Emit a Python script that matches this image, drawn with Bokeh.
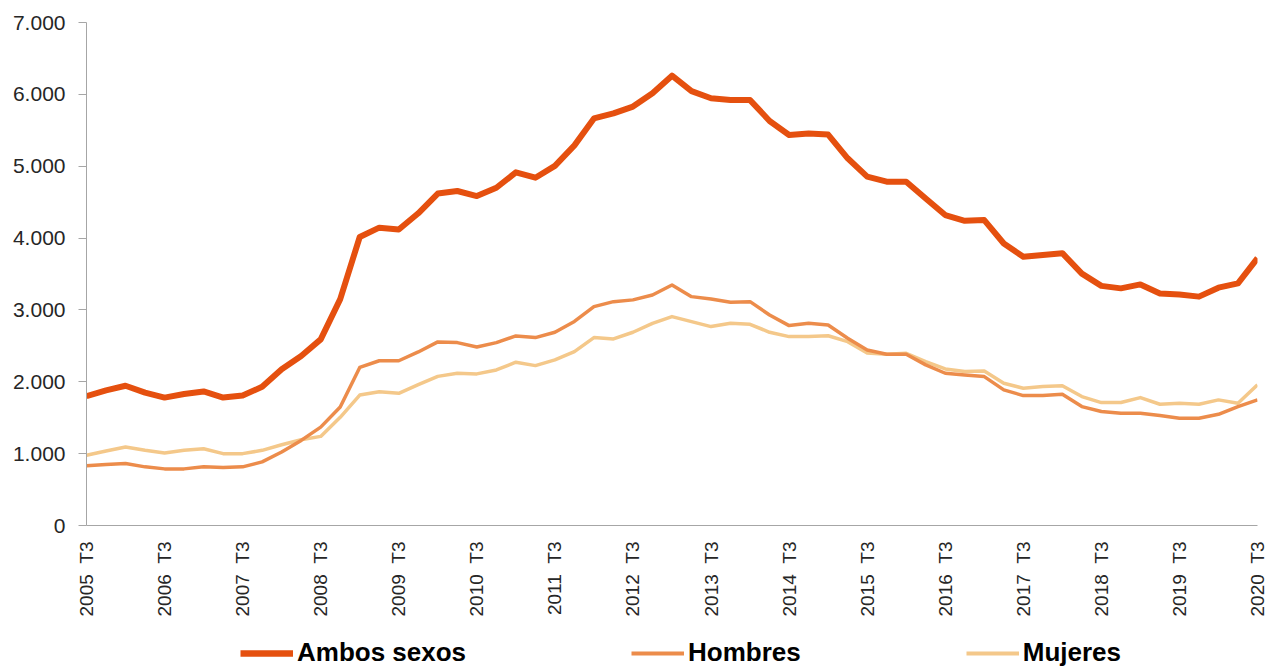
import math
from bokeh.plotting import figure
from bokeh.layouts import column
from bokeh.models import FixedTicker, Legend, LegendItem, Range1d, ColumnDataSource
from bokeh.embed import file_html
from bokeh.resources import INLINE

# Quarterly periods, 2005 T3 .. 2020 T3
quarters = []
for year in range(2005, 2021):
    for q in (1, 2, 3, 4):
        if (year == 2005 and q < 3) or (year == 2020 and q > 3):
            continue
        quarters.append(f"{year}\u00a0\u00a0T{q}")

ambos = [
    1800, 1880, 1945, 1850, 1780, 1830, 1865, 1780, 1810, 1930,
    2175, 2360, 2590, 3150, 4015, 4145, 4120, 4345, 4620, 4655,
    4585, 4700, 4915, 4840, 5005, 5290, 5665, 5735, 5830, 6015,
    6260, 6045, 5945, 5920, 5920, 5630, 5435, 5455, 5440, 5110,
    4855, 4785, 4785, 4550, 4320, 4240, 4250, 3925, 3740, 3765,
    3790, 3505, 3335, 3300, 3355, 3230, 3215, 3185, 3310, 3370,
    3720,
]
hombres = [
    830, 848, 862, 816, 788, 788, 816, 806, 816, 885,
    1023, 1184, 1369, 1650, 2200, 2293, 2293, 2415, 2555, 2545,
    2485, 2545, 2638, 2615, 2690, 2840, 3046, 3115, 3140, 3208,
    3347, 3185, 3153, 3106, 3115, 2930, 2782, 2814, 2791, 2605,
    2443, 2383, 2383, 2235, 2119, 2096, 2072, 1887, 1808, 1808,
    1826, 1655, 1586, 1562, 1562, 1530, 1493, 1493, 1548, 1655,
    1748,
]
mujeres = [
    977, 1037, 1092, 1046, 1009, 1046, 1069, 1000, 1000, 1046,
    1124, 1194, 1240, 1505, 1815, 1860, 1840, 1960, 2075, 2119,
    2110, 2165, 2272, 2225, 2304, 2420, 2615, 2596, 2689, 2814,
    2907, 2837, 2768, 2814, 2800, 2689, 2629, 2629, 2640, 2559,
    2400, 2383, 2397, 2281, 2179, 2142, 2151, 1979, 1910, 1933,
    1945, 1794, 1711, 1711, 1780, 1687, 1701, 1687, 1748, 1701,
    1957,
]

series_keys = ["ambos", "hombres", "mujeres"]
series_names = ["Ambos sexos", "Hombres", "Mujeres"]
series_colors = ["#E5500F", "#EC8C4B", "#F4C88A"]
series_widths = [6, 3.5, 3.5]

y_ticks = [0, 1000, 2000, 3000, 4000, 5000, 6000, 7000]
x_ticks = list(range(0, len(quarters), 4))

idx = list(range(len(quarters)))
src = ColumnDataSource(dict(x=idx, ambos=ambos, hombres=hombres, mujeres=mujeres))

p = figure(
    width=1269, height=625,
    x_range=Range1d(0, len(quarters) - 1), y_range=Range1d(0, 7000),
    output_backend="svg", toolbar_location=None,
    min_border_left=86, min_border_right=12, min_border_top=22,
    min_border_bottom=100,
)
p.outline_line_color = None
p.xgrid.visible = False
p.ygrid.visible = False
p.background_fill_color = "white"
p.border_fill_color = "white"

# Draw lower series first so the total sits on top
for key, color, w in reversed(list(zip(series_keys, series_colors, series_widths))):
    p.line("x", key, source=src, line_color=color, line_width=w, line_join="round")

axis_grey = "#A6A6A6"
text_col = "#262626"

yax = p.yaxis[0]
yax.ticker = FixedTicker(ticks=y_ticks)
yax.major_label_overrides = {t: f"{t:,}".replace(",", ".") for t in y_ticks}
yax.major_label_text_font = "Liberation Sans"
yax.major_label_text_font_size = "21px"
yax.major_label_text_color = text_col
yax.axis_line_color = axis_grey
yax.major_tick_line_color = axis_grey
yax.major_tick_out = 8
yax.major_tick_in = 0
yax.minor_tick_line_color = None
yax.major_label_standoff = 13

xax = p.xaxis[0]
xax.ticker = FixedTicker(ticks=x_ticks)
xax.major_label_overrides = {i: quarters[i] for i in x_ticks}
xax.major_label_orientation = math.pi / 2
xax.major_label_text_font = "Liberation Sans"
xax.major_label_text_font_size = "19px"
xax.major_label_text_color = text_col
xax.axis_line_color = axis_grey
xax.major_tick_line_color = None
xax.minor_tick_line_color = None
xax.major_label_standoff = 10

# Legend strip under the chart: swatch lines outside the visible range
lf = figure(
    width=1269, height=42, x_range=Range1d(0, 1), y_range=Range1d(0, 1),
    output_backend="svg", toolbar_location=None, min_border=0,
)
lf.axis.visible = False
lf.grid.visible = False
lf.outline_line_color = None
lf.border_fill_color = "white"
swatches = []
for color, w in zip(series_colors, series_widths):
    swatches.append(lf.line([2, 3], [2, 3], line_color=color, line_width=w + 0.5))

legend = Legend(
    items=[LegendItem(label=n, renderers=[r]) for n, r in zip(series_names, swatches)],
    orientation="horizontal", location=(154, -1),
    spacing=165, glyph_width=53, glyph_height=20, label_standoff=4,
    label_text_font="Liberation Sans",
    label_text_font_size="26px", label_text_font_style="bold",
    label_text_color="#000000",
    border_line_color=None, background_fill_alpha=0,
    padding=0, margin=0,
)
lf.add_layout(legend)

open("out.html", "w").write(file_html(column(p, lf, spacing=0), INLINE))
